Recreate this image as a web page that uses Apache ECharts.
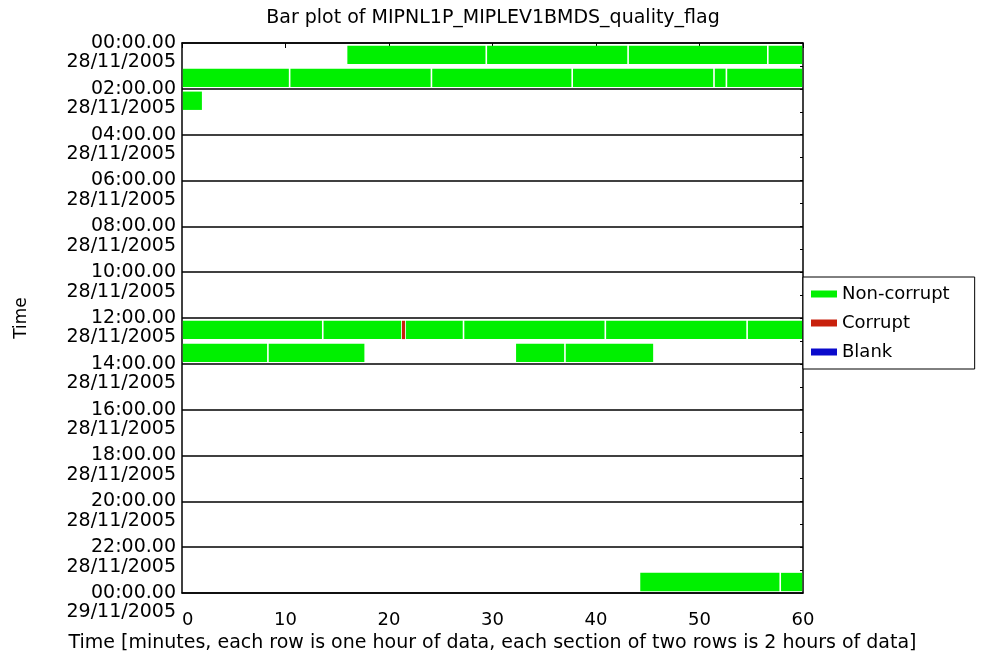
<!DOCTYPE html>
<html>
<head>
<meta charset="utf-8">
<script src="https://cdn.jsdelivr.net/npm/echarts@6/dist/echarts.min.js"></script>
<style>html,body{margin:0;padding:0;background:#fff;}#c{width:998px;height:659px;}</style>
</head>
<body>
<div id="c"></div>
<script>
// Each segment: [hourRow, startMinute, endMinute]
const nonCorruptSegments = [
  [0, 15.9, 29.4], [0, 29.4, 43.1], [0, 43.1, 56.6], [0, 56.6, 60],
  [1, 0, 10.4], [1, 10.4, 24.1], [1, 24.1, 37.7], [1, 37.7, 51.4], [1, 51.4, 52.6], [1, 52.6, 60],
  [2, 0, 2.0],
  [12, 0, 13.6], [12, 13.6, 21.25], [12, 21.55, 27.2], [12, 27.2, 40.9], [12, 40.9, 54.6], [12, 54.6, 60],
  [13, 0, 8.3], [13, 8.3, 17.7], [13, 32.2, 37.0], [13, 37.0, 45.6],
  [23, 44.2, 57.8], [23, 57.8, 60]
];
const corruptSegments = [
  [12, 21.25, 21.55]
];
const blankSegments = [];
const yTimeLabels = [
  '00:00.00', '02:00.00', '04:00.00', '06:00.00', '08:00.00', '10:00.00', '12:00.00',
  '14:00.00', '16:00.00', '18:00.00', '20:00.00', '22:00.00', '00:00.00'
];
const yDateLabels = [
  '28/11/2005', '28/11/2005', '28/11/2005', '28/11/2005', '28/11/2005', '28/11/2005', '28/11/2005',
  '28/11/2005', '28/11/2005', '28/11/2005', '28/11/2005', '28/11/2005', '29/11/2005'
];
const seriesNames = ['Non-corrupt', 'Corrupt', 'Blank'];
const seriesColors = ['#00f000', '#c8200c', '#0a0acc'];

const FONT = 'DejaVu Sans';
function renderSeg(params, api) {
  const row = api.value(0), s = api.value(1), e = api.value(2);
  const p1 = api.coord([s, row + 0.12]);
  const p2 = api.coord([e, row + 0.92]);
  const shrink = (e - s) < 1 ? 0 : 0.8;
  return {
    type: 'rect',
    shape: { x: p1[0] + shrink, y: p1[1], width: Math.max(1, p2[0] - p1[0] - 2 * shrink), height: p2[1] - p1[1] },
    style: { fill: api.visual('color') }
  };
}
const chart = echarts.init(document.getElementById('c'));
const segData = [nonCorruptSegments, corruptSegments, blankSegments];
const lineStyle = { color: '#000', width: 1.5 };
const yLabelBase = { fontFamily: FONT, fontSize: 19, color: '#000', margin: 6, showMinLabel: true, showMaxLabel: true };
chart.setOption({
  backgroundColor: '#fff',
  animation: false,
  title: {
    text: 'Bar plot of MIPNL1P_MIPLEV1BMDS_quality_flag',
    left: 488, top: 4, textAlign: 'center',
    textStyle: { fontFamily: FONT, fontSize: 19, fontWeight: 'normal', color: '#000' }
  },
  legend: {
    orient: 'vertical', left: 803, top: 277,
    data: seriesNames,
    icon: 'rect', itemWidth: 26, itemHeight: 7, itemGap: 11,
    padding: [8, 25, 8, 8],
    borderColor: '#000', borderWidth: 1, backgroundColor: '#fff',
    textStyle: { fontFamily: FONT, fontSize: 18, color: '#000' }
  },
  grid: { left: 182, right: 195, top: 43, bottom: 66 },
  xAxis: [{
    type: 'value', min: 0, max: 60, interval: 10, position: 'bottom',
    name: 'Time [minutes, each row is one hour of data, each section of two rows is 2 hours of data]',
    nameLocation: 'middle', nameGap: 37,
    nameTextStyle: { fontFamily: FONT, fontSize: 19, color: '#000' },
    axisLine: { show: true, onZero: false, lineStyle: lineStyle },
    axisTick: { show: false },
    axisLabel: { fontFamily: FONT, fontSize: 18, color: '#000', margin: 18, alignMinLabel: 'left' },
    splitLine: { show: false }
  }, {
    type: 'value', min: 0, max: 60, interval: 10, position: 'top',
    axisLine: { show: true, onZero: false, lineStyle: lineStyle },
    axisTick: { show: true, inside: true, length: 5, lineStyle: { color: '#000' } },
    axisLabel: { show: false },
    splitLine: { show: false }
  }],
  yAxis: [{
    type: 'value', min: 0, max: 24, interval: 2, inverse: true, position: 'left',
    name: 'Time', nameLocation: 'middle', nameGap: 152, nameRotate: 90,
    nameTextStyle: { fontFamily: FONT, fontSize: 17, color: '#000' },
    axisLine: { show: true, onZero: false, lineStyle: lineStyle },
    axisTick: { show: false },
    axisLabel: Object.assign({}, yLabelBase, {
      verticalAlign: 'middle', padding: [9, 0, 0, 0],
      formatter: function (v) { return yTimeLabels[Math.round(v / 2)]; }
    }),
    splitLine: { show: true, lineStyle: lineStyle }
  }, {
    type: 'value', min: 0, max: 24, interval: 2, inverse: true, position: 'left',
    axisLine: { show: false, onZero: false },
    axisTick: { show: false },
    axisLabel: Object.assign({}, yLabelBase, {
      verticalAlign: 'top', padding: [10, 0, 0, 0],
      formatter: function (v) { return yDateLabels[Math.round(v / 2)]; }
    }),
    splitLine: { show: false }
  }, {
    type: 'value', min: 0, max: 24, interval: 1, inverse: true, position: 'right',
    axisLine: { show: true, onZero: false, lineStyle: lineStyle },
    axisTick: { show: true, inside: true, length: 3, lineStyle: { color: '#000' } },
    axisLabel: { show: false },
    splitLine: { show: false }
  }],
  series: seriesNames.map(function (name, i) {
    return {
      name: name, type: 'custom', renderItem: renderSeg,
      xAxisIndex: 0, yAxisIndex: 0,
      itemStyle: { color: seriesColors[i] },
      encode: { x: [1, 2], y: 0 },
      clip: true,
      data: segData[i]
    };
  })
});
</script>
</body>
</html>
